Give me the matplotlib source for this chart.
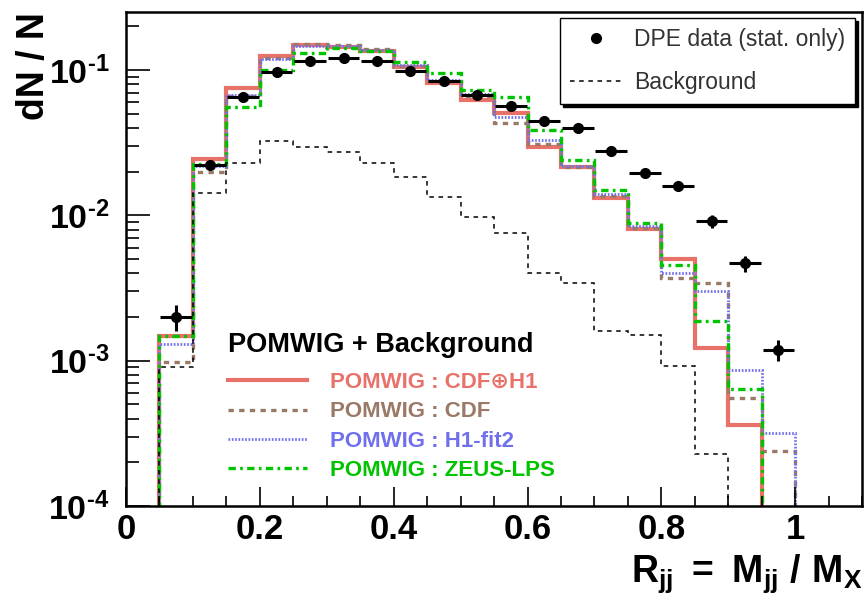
import numpy as np
import matplotlib.pyplot as plt
from matplotlib.lines import Line2D
from matplotlib.ticker import MultipleLocator, LogLocator, FuncFormatter, NullFormatter

plt.rcParams['font.family'] = ['Liberation Sans', 'DejaVu Sans']
plt.rcParams['mathtext.fontset'] = 'custom'
plt.rcParams['mathtext.rm'] = 'Liberation Sans:bold'
plt.rcParams['mathtext.it'] = 'Liberation Sans:bold'
plt.rcParams['mathtext.bf'] = 'Liberation Sans:bold'

# Data

bin_edges = [0.05, 0.10, 0.15, 0.20, 0.25, 0.30, 0.35, 0.40, 0.45, 0.50,
             0.55, 0.60, 0.65, 0.70, 0.75, 0.80, 0.85, 0.90, 0.95, 1.00]

dpe_data = [0.0020, 0.0221, 0.065, 0.097, 0.115, 0.121, 0.115, 0.098, 0.084, 0.067,
            0.0565, 0.045, 0.040, 0.0277, 0.0195, 0.0160, 0.0091, 0.00467, 0.00119]
dpe_err = [0.0004, 0.0012, 0.0025, 0.003, 0.0035, 0.0035, 0.0035, 0.003, 0.0028, 0.0025,
           0.0022, 0.002, 0.0019, 0.0016, 0.0013, 0.0012, 0.0009, 0.0006, 0.0002]

background = [0.0009, 0.0142, 0.0229, 0.0324, 0.0294, 0.0272, 0.0229, 0.0183, 0.0133, 0.0097,
              0.0076, 0.0040, 0.0034, 0.0016, 0.0015, 0.00092, 0.000229, 0.0, 0.0]

cdf_h1 = [0.00149, 0.0243, 0.075, 0.125, 0.149, 0.144, 0.135, 0.105, 0.081, 0.062,
          0.051, 0.0295, 0.0214, 0.0131, 0.0081, 0.0050, 0.00123, 0.00036, 0.0]
cdf = [0.00098, 0.0198, 0.066, 0.122, 0.152, 0.150, 0.140, 0.106, 0.084, 0.066,
       0.043, 0.031, 0.0214, 0.0135, 0.0082, 0.0037, 0.0034, 0.00055, 0.00024]
h1_fit2 = [0.00131, 0.022, 0.067, 0.120, 0.146, 0.146, 0.138, 0.108, 0.086, 0.068,
           0.0475, 0.033, 0.022, 0.0140, 0.0084, 0.0040, 0.0030, 0.00086, 0.000316]
zeus_lps = [0.00149, 0.0225, 0.0556, 0.100, 0.131, 0.142, 0.135, 0.114, 0.095, 0.073,
            0.065, 0.0386, 0.024, 0.0149, 0.0088, 0.00458, 0.00189, 0.00064, 0.0]

floor = 1e-6
edges = np.array(bin_edges)
centers = (edges[:-1] + edges[1:]) / 2
halfw = (edges[1:] - edges[:-1]) / 2 * 0.95

fig = plt.figure(figsize=(8.65, 6.02), dpi=100)
ax = fig.add_axes([0.1457, 0.1595, 0.851, 0.8205])

models = [
    (cdf_h1, "#E8726A", "-", 3.0, "POMWIG : CDF\u2295H1"),
    (cdf, "#9A7A66", (0, (1.6, 1.6)), 2.4, "POMWIG : CDF"),
    (h1_fit2, "#7070EE", (0, (0.6, 0.6)), 2.0, "POMWIG : H1-fit2"),
    (zeus_lps, "#00C400", (0, (2.2, 1.3, 0.8, 1.3)), 2.4, "POMWIG : ZEUS-LPS"),
]

handles = []
for vals, col, ls, lw, lab in models:
    v = np.maximum(np.array(vals), floor)
    ax.stairs(v, edges, baseline=floor, color=col, linestyle=ls, linewidth=lw)
    handles.append(Line2D([], [], color=col, linestyle=ls, linewidth=lw, label=lab))

ax.stairs(np.maximum(np.array(background), floor), edges, baseline=floor,
          color="black", linestyle=(0, (3, 3)), linewidth=1.1)

ax.errorbar(centers, dpe_data, xerr=halfw, yerr=dpe_err, fmt="o", color="black",
            markersize=7, elinewidth=2.2, capsize=0, zorder=5)

ax.set_yscale("log")
ax.set_xlim(0, 1.1)
ax.set_ylim(1e-4, 10 ** -0.6)

# Ticks

ax.xaxis.set_major_locator(MultipleLocator(0.2))
ax.xaxis.set_minor_locator(MultipleLocator(0.05))
ax.xaxis.set_major_formatter(FuncFormatter(lambda v, p: "0" if abs(v) < 1e-9 else ("1" if abs(v - 1) < 1e-9 else f"{v:.1f}")))
ax.yaxis.set_major_locator(LogLocator(base=10, numticks=10))
ax.yaxis.set_minor_locator(LogLocator(base=10, subs=np.arange(2, 10), numticks=20))
ax.yaxis.set_minor_formatter(NullFormatter())
ax.yaxis.set_major_formatter(FuncFormatter(lambda v, p: r"$\mathbf{10^{\text{-%d}}}$" % round(-np.log10(v))))

ax.tick_params(which="both", direction="in", top=False, right=False, width=1.2)
ax.tick_params(axis="x", which="major", length=14, labelsize=25, pad=5)
ax.tick_params(axis="x", which="minor", length=7)
ax.tick_params(axis="y", which="major", length=17, labelsize=24.5, pad=12)
ax.tick_params(axis="y", which="minor", length=9)
for lab in ax.get_xticklabels():
    lab.set_fontweight("bold")
for sp in ax.spines.values():
    sp.set_linewidth(1.8)

ax.set_xlabel(r"$\mathbf{R_{jj}\ =\ M_{jj}\ /\ M_X}$", fontsize=27, loc="right")
ax.xaxis.set_label_coords(1.0, -0.093)
ax.set_ylabel("dN / N", fontsize=27, fontweight="bold", loc="top")
ax.yaxis.set_label_coords(-0.101, 1.0)

# Legends

top_handles = [
    Line2D([], [], marker="o", color="black", linestyle="none", markersize=7),
    Line2D([], [], color="black", linestyle=(0, (3, 3)), linewidth=1.1),
]
leg1 = ax.legend(top_handles, ["DPE data (stat. only)", "Background"],
                 loc="upper right", bbox_to_anchor=(0.9905, 0.988), borderaxespad=0,
                 fontsize=16.5, fancybox=False, edgecolor="black", framealpha=1,
                 shadow={"color": "black", "alpha": 1}, labelcolor="#333333",
                 handlelength=2.26, handletextpad=0.5, borderpad=0.45,
                 labelspacing=0.85)
leg1.get_frame().set_linewidth(1.0)
ax.add_artist(leg1)

ax.text(0.1386, 0.326, "POMWIG + Background", transform=ax.transAxes,
        fontsize=19.5, fontweight="bold", ha="left", va="center")
leg2 = ax.legend(handles=handles, loc="upper left", bbox_to_anchor=(0.1386, 0.271),
                 borderaxespad=0, borderpad=0, frameon=False,
                 prop={"weight": "bold", "size": 16}, labelcolor="linecolor",
                 handlelength=3.56, handletextpad=1.04, labelspacing=0.37)

fig.savefig("out.png", dpi=100)
